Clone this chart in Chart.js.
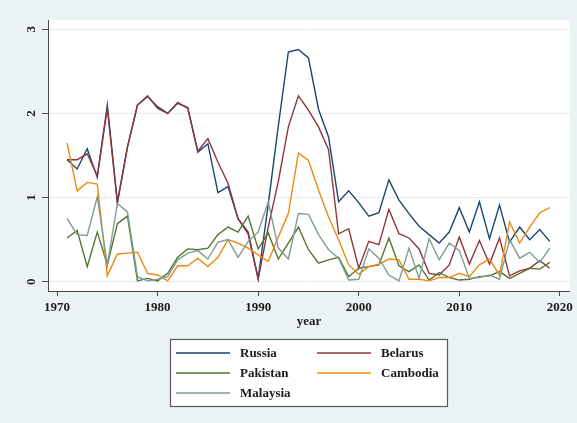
<!DOCTYPE html>
<html>
<head>
<meta charset="utf-8">
<script src="https://cdn.jsdelivr.net/npm/chart.js@4"></script>
<style>
  html, body { margin: 0; padding: 0; background: #eaf2f3; }
  #wrap { width: 577px; height: 423px; }
</style>
</head>
<body>
<div id="wrap"><canvas id="chart" width="577" height="423"></canvas></div>
<script>
// values
const years = [1971, 1972, 1973, 1974, 1975, 1976, 1977, 1978, 1979, 1980,
               1981, 1982, 1983, 1984, 1985, 1986, 1987, 1988, 1989, 1990,
               1991, 1992, 1993, 1994, 1995, 1996, 1997, 1998, 1999, 2000,
               2001, 2002, 2003, 2004, 2005, 2006, 2007, 2008, 2009, 2010,
               2011, 2012, 2013, 2014, 2015, 2016, 2017, 2018, 2019];

const russia   = [1.45, 1.34, 1.58, 1.24, 2.10, 0.95, 1.60, 2.10, 2.20, 2.08,
                  2.00, 2.12, 2.07, 1.54, 1.64, 1.06, 1.13, 0.75, 0.59, 0.04,
                  0.92, 1.85, 2.73, 2.76, 2.66, 2.05, 1.72, 0.95, 1.08, 0.94,
                  0.78, 0.82, 1.21, 0.97, 0.81, 0.66, 0.56, 0.46, 0.59, 0.88,
                  0.59, 0.95, 0.51, 0.91, 0.47, 0.65, 0.50, 0.62, 0.48];
const belarus  = [1.45, 1.45, 1.52, 1.26, 2.06, 0.93, 1.60, 2.10, 2.21, 2.06,
                  2.00, 2.13, 2.06, 1.55, 1.70, 1.42, 1.17, 0.75, 0.57, 0.03,
                  0.65, 1.19, 1.84, 2.21, 2.04, 1.84, 1.57, 0.57, 0.63, 0.16,
                  0.48, 0.44, 0.86, 0.57, 0.52, 0.39, 0.10, 0.08, 0.20, 0.53,
                  0.21, 0.49, 0.21, 0.52, 0.07, 0.13, 0.16, 0.25, 0.16];
const pakistan = [0.52, 0.61, 0.18, 0.59, 0.20, 0.69, 0.78, 0.01, 0.04, 0.01,
                  0.10, 0.29, 0.39, 0.38, 0.40, 0.56, 0.65, 0.59, 0.78, 0.39,
                  0.58, 0.27, 0.46, 0.65, 0.38, 0.22, 0.26, 0.29, 0.06, 0.16,
                  0.18, 0.20, 0.52, 0.19, 0.12, 0.20, 0.02, 0.11, 0.05, 0.02,
                  0.03, 0.06, 0.07, 0.12, 0.04, 0.10, 0.16, 0.15, 0.23];
const cambodia = [1.65, 1.08, 1.18, 1.16, 0.07, 0.33, 0.34, 0.35, 0.10, 0.08,
                  0.01, 0.19, 0.19, 0.28, 0.18, 0.29, 0.50, 0.46, 0.40, 0.32,
                  0.24, 0.53, 0.81, 1.53, 1.44, 1.09, 0.77, 0.50, 0.20, 0.09,
                  0.18, 0.21, 0.27, 0.26, 0.03, 0.03, 0.01, 0.05, 0.05, 0.10,
                  0.06, 0.20, 0.27, 0.08, 0.71, 0.46, 0.65, 0.82, 0.88];
const malaysia = [0.75, 0.56, 0.55, 1.01, 0.20, 0.93, 0.83, 0.06, 0.01, 0.03,
                  0.06, 0.26, 0.34, 0.37, 0.27, 0.47, 0.50, 0.29, 0.48, 0.59,
                  0.95, 0.40, 0.27, 0.81, 0.80, 0.56, 0.38, 0.28, 0.02, 0.03,
                  0.39, 0.28, 0.08, 0.01, 0.40, 0.04, 0.51, 0.26, 0.46, 0.37,
                  0.04, 0.05, 0.08, 0.03, 0.50, 0.28, 0.35, 0.23, 0.40];

const seriesNames = ['Russia', 'Belarus', 'Pakistan', 'Cambodia', 'Malaysia'];
const seriesColors = ['#1a476f', '#90353b', '#55752f', '#ec8a12', '#7e9e94'];
const xTicks = [1970, 1980, 1990, 2000, 2010, 2020];
const yTicks = [0, 1, 2, 3];

const FONT = "'Liberation Serif', 'DejaVu Serif', serif";
const TEXT = '#1b1b1b';
const AXIS = '#4a4a4a';

const toPoints = (vals) => vals.map((v, i) => ({ x: years[i], y: v }));
const allSeries = [russia, belarus, pakistan, cambodia, malaysia];

const datasets = allSeries.map((vals, i) => ({
    label: seriesNames[i],
    data: toPoints(vals),
    borderColor: seriesColors[i],
    backgroundColor: seriesColors[i],
    borderWidth: 1.4,
    pointRadius: 0,
    tension: 0,
    order: allSeries.length - i
}));

// white plot region over the blue-grey graph region
const plotBg = {
    id: 'plotBg',
    beforeDraw(chart) {
        const { ctx, chartArea: a } = chart;
        ctx.save();
        ctx.fillStyle = '#ffffff';
        ctx.fillRect(a.left, a.top, a.right - a.left, a.bottom - a.top);
        ctx.restore();
    }
};

// two-column boxed legend under the axis title
const boxLegend = {
    id: 'boxLegend',
    afterDraw(chart) {
        const ctx = chart.ctx;
        const box = { x: 170.5, y: 339.5, w: 277, h: 67 };
        const cols = [{ line: 176, text: 240 }, { line: 317, text: 381 }];
        const rows = [353, 373, 393];
        ctx.save();
        ctx.fillStyle = '#ffffff';
        ctx.fillRect(box.x, box.y, box.w, box.h);
        ctx.strokeStyle = '#5a5a5a';
        ctx.lineWidth = 1.2;
        ctx.strokeRect(box.x, box.y, box.w, box.h);
        ctx.font = 'bold 13px ' + FONT;
        ctx.textBaseline = 'middle';
        ctx.textAlign = 'left';
        chart.data.datasets.forEach((ds, i) => {
            const c = cols[i % 2];
            const y = rows[Math.floor(i / 2)];
            ctx.strokeStyle = ds.borderColor;
            ctx.lineWidth = 1.4;
            ctx.beginPath();
            ctx.moveTo(c.line, y);
            ctx.lineTo(c.line + 54, y);
            ctx.stroke();
            ctx.fillStyle = TEXT;
            ctx.fillText(ds.label, c.text, y + 1);
        });
        ctx.restore();
    }
};

new Chart(document.getElementById('chart'), {
    type: 'line',
    data: { datasets },
    options: {
        responsive: false,
        animation: false,
        layout: { padding: { top: 20, right: 7, left: 0, bottom: 0 } },
        plugins: {
            legend: { display: false },
            tooltip: { enabled: false }
        },
        scales: {
            x: {
                type: 'linear',
                min: 1969.1,
                max: 2021,
                afterBuildTicks: (s) => { s.ticks = xTicks.map(v => ({ value: v })); },
                afterFit: (s) => { s.height = 132; },
                grid: { drawOnChartArea: false, drawTicks: true, tickLength: 5, tickColor: AXIS },
                border: { color: AXIS, width: 1 },
                ticks: {
                    color: TEXT,
                    font: { family: FONT, size: 13, weight: 'bold' },
                    padding: 4,
                    maxRotation: 0,
                    callback: (v) => String(v)
                },
                title: {
                    display: true,
                    text: 'year',
                    color: TEXT,
                    font: { family: FONT, size: 13, weight: 'bold' },
                    padding: { top: 0, bottom: 94 }
                }
            },
            y: {
                min: -0.11,
                max: 3.11,
                afterBuildTicks: (s) => { s.ticks = yTicks.map(v => ({ value: v })); },
                afterFit: (s) => { s.width = 48; },
                grid: { color: '#e3ecef', lineWidth: 1, drawTicks: true, tickLength: 6, tickColor: AXIS },
                border: { color: AXIS, width: 1 },
                ticks: {
                    color: TEXT,
                    font: { family: FONT, size: 13, weight: 'bold' },
                    minRotation: 90,
                    maxRotation: 90,
                    crossAlign: 'center',
                    padding: 7,
                    callback: (v) => String(v)
                }
            }
        }
    },
    plugins: [plotBg, boxLegend]
});
</script>
</body>
</html>
